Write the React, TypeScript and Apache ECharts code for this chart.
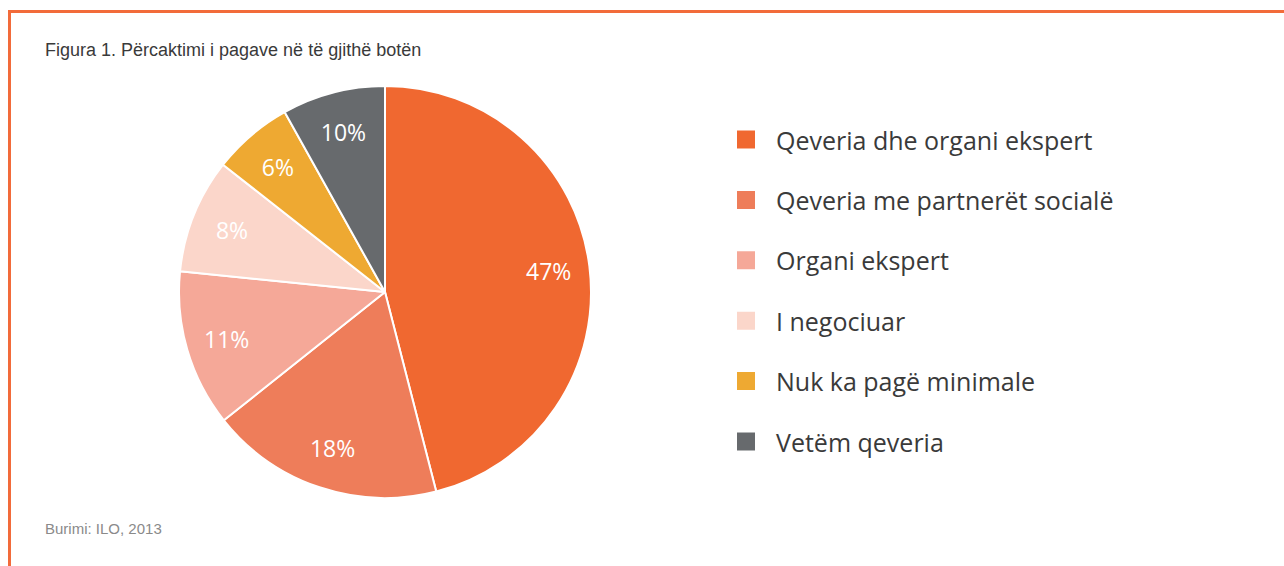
import React, { useEffect, useRef } from "react";
import * as echarts from "echarts";

const categories = [
  "Qeveria dhe organi ekspert",
  "Qeveria me partnerët socialë",
  "Organi ekspert",
  "I negociuar",
  "Nuk ka pagë minimale",
  "Vetëm qeveria",
];
// slice sizes
const sliceValues = [46, 18.3, 12.3, 9, 6.3, 8.1];
// printed labels
const labelTexts = ["47%", "18%", "11%", "8%", "6%", "10%"];
const colors = ["#F06830", "#EE7D5A", "#F5A898", "#FBD6CA", "#EEA932", "#676A6D"];

const titleText = "Figura 1. Përcaktimi i pagave në të gjithë botën";
const sourceText = "Burimi: ILO, 2013";

export default function App() {
  const ref = useRef<HTMLDivElement>(null);
  useEffect(() => {
    if (!ref.current) return;
    const chart = echarts.init(ref.current, undefined, { renderer: "svg" });
    const data = categories.map((name, i) => ({
      name,
      value: sliceValues[i],
      itemStyle: { color: colors[i] },
    }));
    chart.setOption({
      animation: false,
      backgroundColor: "#ffffff",
      graphic: [
        { type: "rect", shape: { x: 8, y: 10, width: 1276, height: 3 }, style: { fill: "#F26B3A" } },
        { type: "rect", shape: { x: 8, y: 10, width: 3, height: 556 }, style: { fill: "#F26B3A" } },
        {
          type: "text",
          left: 45,
          top: 41,
          style: {
            text: titleText,
            font: "18px 'Liberation Sans', sans-serif",
            fill: "#3a3a3a",
          },
        },
        {
          type: "text",
          left: 45,
          top: 521,
          style: {
            text: sourceText,
            font: "15px 'Liberation Sans', sans-serif",
            fill: "#8a8a8a",
          },
        },
      ],
      legend: {
        orient: "vertical",
        left: 730,
        top: 122,
        itemWidth: 20,
        itemHeight: 20,
        itemGap: 35.4,
        icon: "rect",
        data: categories,
        textStyle: {
          fontFamily: "'Open Sans', sans-serif",
          fontSize: 25,
          color: "#3a3a3a",
          padding: [0, 0, 0, 15],
          lineHeight: 20,
        },
      },
      series: [
        {
          type: "pie",
          center: [385, 292],
          radius: [0, 206],
          startAngle: 90,
          clockwise: true,
          data,
          label: { show: false },
          labelLine: { show: false },
          itemStyle: { borderColor: "#ffffff", borderWidth: 2 },
          silent: true,
        },
        {
          type: "pie",
          center: [385, 292],
          radius: [118, 206],
          startAngle: 90,
          clockwise: true,
          silent: true,
          legendHoverLink: false,
          data: data.map((d, i) => ({
            name: d.name + " ",
            value: d.value,
            itemStyle: { color: "transparent" },
            label: { formatter: labelTexts[i] },
          })),
          itemStyle: { color: "transparent", borderWidth: 0 },
          label: {
            show: true,
            position: "inside",
            color: "#ffffff",
            fontFamily: "'Open Sans', sans-serif",
            fontSize: 23,
          },
          labelLine: { show: false },
        },
      ],
    });
    return () => chart.dispose();
  }, []);
  return (
    <div
      ref={ref}
      style={{ position: "fixed", left: 0, top: 0, width: 1284, height: 566 }}
    />
  );
}
